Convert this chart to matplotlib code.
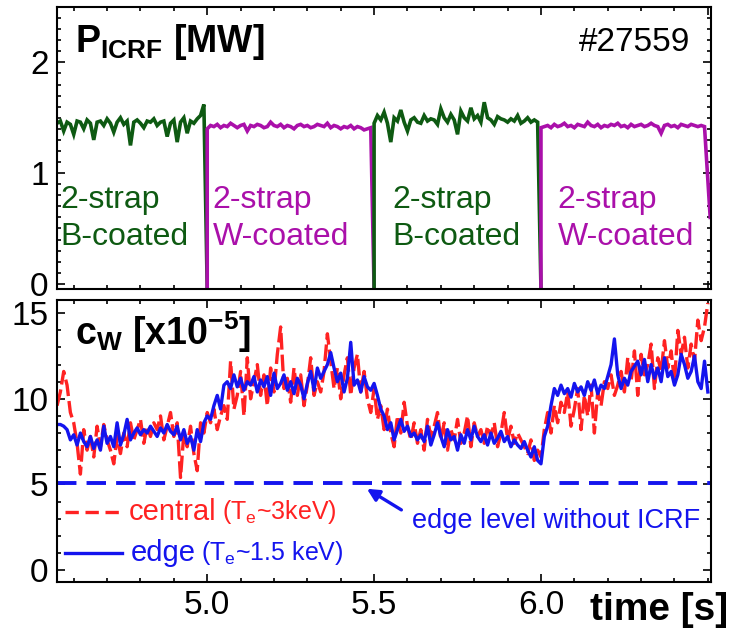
import numpy as np
import matplotlib
matplotlib.use("Agg")
import matplotlib.pyplot as plt
from matplotlib.ticker import MultipleLocator

plt.rcParams['font.family'] = ['Liberation Sans', 'DejaVu Sans']
plt.rcParams['mathtext.fontset'] = 'custom'
plt.rcParams['mathtext.rm'] = 'Liberation Sans'
plt.rcParams['mathtext.bf'] = 'Liberation Sans:bold'
plt.rcParams['mathtext.it'] = 'Liberation Sans:italic'

# ---------------- data ----------------
# ICRF power [MW], sampled every 0.01 s
t_green1 = 4.55
p_green1 = [1.45, 1.47, 1.38, 1.46, 1.44, 1.35, 1.47, 1.46, 1.40, 1.48,
            1.45, 1.30, 1.46, 1.47, 1.43, 1.49, 1.45, 1.37, 1.46, 1.50,
            1.44, 1.47, 1.25, 1.46, 1.48, 1.45, 1.41, 1.47, 1.46, 1.49,
            1.43, 1.46, 1.47, 1.33, 1.45, 1.48, 1.28, 1.46, 1.50, 1.36,
            1.47, 1.45, 1.49, 1.52, 1.62]
t_mag1 = 5.00
p_mag1 = [1.40, 1.43, 1.42, 1.44, 1.41, 1.43, 1.42, 1.45, 1.43, 1.41,
          1.43, 1.44, 1.38, 1.43, 1.42, 1.44, 1.43, 1.41, 1.42, 1.46,
          1.43, 1.42, 1.44, 1.41, 1.43, 1.42, 1.40, 1.43, 1.44, 1.42,
          1.43, 1.41, 1.42, 1.44, 1.43, 1.42, 1.45, 1.41, 1.43, 1.42,
          1.40, 1.42, 1.41, 1.43, 1.40, 1.42, 1.41, 1.39, 1.40, 1.41]
t_green2 = 5.50
p_green2 = [1.45, 1.52, 1.48, 1.55, 1.45, 1.28, 1.50, 1.47, 1.57, 1.46,
            1.38, 1.48, 1.50, 1.46, 1.45, 1.52, 1.47, 1.49, 1.48, 1.44,
            1.58, 1.50, 1.46, 1.53, 1.48, 1.35, 1.56, 1.50, 1.47, 1.59,
            1.49, 1.52, 1.46, 1.64, 1.50, 1.48, 1.44, 1.51, 1.49, 1.48,
            1.46, 1.49, 1.47, 1.52, 1.45, 1.47, 1.50, 1.46, 1.48, 1.46]
t_mag2 = 6.00
p_mag2 = [1.41, 1.42, 1.43, 1.41, 1.44, 1.42, 1.43, 1.45, 1.42, 1.43,
          1.41, 1.44, 1.43, 1.42, 1.46, 1.43, 1.42, 1.44, 1.41, 1.43,
          1.42, 1.44, 1.43, 1.45, 1.42, 1.43, 1.41, 1.44, 1.42, 1.43,
          1.44, 1.42, 1.43, 1.45, 1.43, 1.42, 1.36, 1.43, 1.44, 1.42,
          1.43, 1.41, 1.44, 1.43, 1.42, 1.44, 1.43, 1.42, 1.43, 1.42]
p_end = 0.6

# tungsten concentration [1e-5], sampled every 0.01 s from 4.55 s
t_cw0 = 4.55
cw_edge = [8.5, 8.5, 8.4, 8.2, 7.6, 7.9, 7.3, 8.0, 7.5, 7.2,
           7.8, 7.1, 7.6, 7.0, 8.4, 7.4, 7.8, 7.2, 8.6, 7.3,
           7.9, 8.8, 7.6, 8.0, 8.3, 7.9, 8.2, 8.0, 8.4, 8.1,
           7.8, 8.3, 8.0, 8.5, 8.1, 7.9, 8.4, 7.6, 8.2, 7.4,
           7.8, 7.0, 8.2, 7.5, 8.6, 9.0, 8.8, 9.6, 10.2, 9.4,
           10.8, 11.0, 10.6, 11.4, 10.7, 11.2, 10.5, 11.0, 10.8, 11.3,
           10.4, 11.1, 10.7, 11.3, 10.2, 11.5, 10.6, 10.9, 11.4, 10.5,
           11.0, 10.3, 11.2, 10.8, 10.0, 10.9, 11.6, 10.5, 11.8, 11.2,
           11.6, 12.0, 12.7, 11.8, 11.0, 11.5, 10.4, 11.2, 13.3, 10.8,
           11.1, 10.4, 11.3, 10.7, 10.5, 10.9, 10.2, 9.4, 9.0, 8.2,
           8.6, 7.6, 8.2, 8.8, 8.1, 8.4, 7.8, 8.0, 7.6, 7.9,
           7.5, 8.4, 7.3, 7.9, 8.6, 7.8, 7.2, 8.2, 7.6, 7.8,
           7.0, 7.9, 7.4, 8.2, 7.6, 8.4, 7.8, 7.5, 7.9, 7.3,
           8.0, 7.4, 7.7, 8.1, 7.5, 7.8, 7.2, 7.6, 7.3, 7.1,
           7.5, 7.0, 6.6, 7.2, 6.4, 6.2, 7.8, 8.4, 9.6, 10.6,
           10.2, 10.8, 10.3, 10.6, 10.1, 10.9, 10.4, 10.7, 10.2, 11.0,
           10.5, 11.1, 10.3, 10.8, 10.6, 11.3, 12.0, 13.5, 11.4, 10.6,
           11.2, 10.8, 11.6, 11.9, 12.2, 11.4, 12.3, 11.0, 12.0, 11.2,
           11.8, 11.0, 12.4, 11.3, 11.6, 10.8, 11.4, 12.6, 12.0, 11.2,
           11.6, 12.5, 11.0, 10.6, 12.2, 10.4]
cw_central = [9.6, 10.4, 11.6, 10.8, 9.2, 8.6, 7.4, 5.6, 8.2, 7.0,
              7.8, 6.6, 8.4, 7.2, 8.5, 7.6, 7.0, 6.2, 7.8, 6.8,
              8.0, 7.2, 8.6, 7.6, 8.2, 8.8, 7.4, 8.4, 7.8, 8.6,
              8.2, 9.0, 7.6, 8.4, 9.2, 7.8, 8.6, 5.4, 8.0, 7.2,
              8.4, 6.8, 5.8, 8.6, 8.0, 9.2, 8.6, 9.4, 8.2, 9.0,
              9.6, 8.8, 12.2, 9.4, 10.2, 11.6, 9.0, 12.4, 10.0, 11.0,
              12.0, 10.2, 11.4, 9.6, 11.8, 10.4, 12.6, 14.2, 10.6, 11.2,
              9.8, 11.8, 10.2, 11.4, 9.6, 10.8, 12.4, 10.2, 11.0, 10.4,
              11.6, 13.8, 12.2, 10.6, 11.8, 10.0, 11.4, 12.4, 10.2, 11.8,
              12.6, 10.4, 11.6, 10.0, 9.2, 10.6, 8.8, 9.6, 8.2, 9.4,
              8.0, 7.2, 9.0, 8.0, 9.8, 8.4, 7.6, 8.6, 7.4, 8.2,
              7.0, 8.8, 7.8, 8.4, 9.2, 7.6, 8.6, 7.0, 8.2, 7.6,
              8.8, 7.4, 8.0, 9.0, 7.2, 8.6, 7.8, 8.2, 7.4, 8.4,
              7.8, 8.6, 7.2, 8.0, 9.2, 7.6, 8.4, 7.4, 8.0, 7.6,
              7.2, 6.8, 7.6, 6.4, 7.0, 6.6, 8.2, 9.2, 8.0, 9.6,
              8.6, 9.8, 9.2, 10.4, 8.4, 9.4, 10.6, 8.2, 10.2, 9.0,
              10.8, 8.0, 10.4, 9.6, 11.0, 10.6, 11.4, 10.2, 10.8, 11.6,
              10.4, 12.4, 11.0, 12.8, 10.2, 12.6, 11.4, 12.0, 13.2, 10.6,
              12.4, 11.6, 13.4, 11.8, 12.8, 11.0, 14.0, 12.6, 13.6, 11.8,
              13.2, 12.2, 14.6, 13.4, 14.2, 15.6]
edge_level_no_icrf = 5.1

dt = 0.01
green = '#0e5a12'
magenta = '#aa10aa'
red = '#ff2222'
blue = '#1414ee'

# ---------------- figure ----------------
fig = plt.figure(figsize=(7.35, 6.36), dpi=100)
ax1 = fig.add_axes([0.0776, 0.545, 0.890, 0.444])
ax2 = fig.add_axes([0.0776, 0.085, 0.890, 0.444])

xlim = (4.55, 6.51)

def seg(t0, vals, start_zero=True, end_val=0.0):
    t = t0 + dt * np.arange(len(vals))
    tt = np.concatenate([[t0] if start_zero else [], t, [t[-1] + dt]])
    vv = np.concatenate([[0.0] if start_zero else [], vals, [end_val]])
    return tt, vv

for t0, vals, col, sz, ev in [(t_green1, p_green1, green, False, 0.0),
                              (t_mag1, p_mag1, magenta, True, 0.0),
                              (t_green2, p_green2, green, True, 0.0),
                              (t_mag2, p_mag2, magenta, True, p_end)]:
    tt, vv = seg(t0, vals, sz, ev)
    if ev != 0.0:
        tt[-1] = xlim[1] - 0.003
    vv = np.where(vv == 0.0, -0.05, vv)
    ax1.plot(tt, vv, color=col, lw=2.6, solid_joinstyle='miter')

ax1.set_xlim(*xlim)
ax1.set_ylim(-0.05, 2.5)
ax1.yaxis.set_major_locator(MultipleLocator(1))
ax1.yaxis.set_minor_locator(MultipleLocator(0.1))
ax1.xaxis.set_major_locator(MultipleLocator(0.5))
ax1.xaxis.set_minor_locator(MultipleLocator(0.1))
ax1.tick_params(labelbottom=False)

ax1.text(0.028, 0.875, r"$\mathbf{P_{ICRF}}$ [MW]", transform=ax1.transAxes,
         fontsize=27, fontweight='bold', va='center', ha='left')
ax1.text(0.968, 0.875, "#27559", transform=ax1.transAxes,
         fontsize=24, va='center', ha='right')

labels_top = [(0.005, green), (0.238, magenta), (0.513, green), (0.765, magenta)]
strap_names = ["2-strap\nB-coated", "2-strap\nW-coated", "2-strap\nB-coated", "2-strap\nW-coated"]
for (x, c), s in zip(labels_top, strap_names):
    ax1.text(x, 0.25, s, transform=ax1.transAxes, color=c, fontsize=23,
             va='center', ha='left', linespacing=1.3)

# bottom panel
t_cw = t_cw0 + dt * np.arange(len(cw_edge))
ax2.plot(t_cw, cw_central, color=red, lw=2.4, dashes=(5, 1.5))
ax2.plot(t_cw, cw_edge, color=blue, lw=2.4)
ax2.axhline(edge_level_no_icrf, color=blue, lw=2.8, dashes=(5, 2.6))

ax2.set_xlim(*xlim)
ax2.set_ylim(-0.7, 15.8)
ax2.yaxis.set_major_locator(MultipleLocator(5))
ax2.yaxis.set_minor_locator(MultipleLocator(1))
ax2.xaxis.set_major_locator(MultipleLocator(0.5))
ax2.xaxis.set_minor_locator(MultipleLocator(0.1))
ax2.set_xticks([5.0, 5.5, 6.0])
ax2.set_xticklabels(["5.0", "5.5", "6.0"])

ax2.text(0.028, 0.885, r"$\mathbf{c_W}$ [x10$^{\mathbf{-5}}$]", transform=ax2.transAxes,
         fontsize=27, fontweight='bold', va='center', ha='left')

# legend (hand drawn)
ax2.plot([0.012, 0.10], [0.248, 0.248], transform=ax2.transAxes, color=red, lw=2.4,
         dashes=(4, 2))
ax2.plot([0.012, 0.10], [0.103, 0.103], transform=ax2.transAxes, color=blue, lw=2.4)
ax2.text(0.11, 0.248, "central", transform=ax2.transAxes, color=red, fontsize=21,
         va='center', ha='left')
ax2.text(0.252, 0.248, r"(T$_\mathrm{e}$~3keV)", transform=ax2.transAxes, color=red,
         fontsize=18, va='center', ha='left')
ax2.text(0.113, 0.103, "edge", transform=ax2.transAxes, color=blue, fontsize=21,
         va='center', ha='left')
ax2.text(0.22, 0.103, r"(T$_\mathrm{e}$~1.5 keV)", transform=ax2.transAxes, color=blue,
         fontsize=18, va='center', ha='left')
ax2.text(0.542, 0.215, "edge level without ICRF", transform=ax2.transAxes, color=blue,
         fontsize=19.5, va='center', ha='left')
ax2.annotate("", xy=(0.47, 0.335), xytext=(0.53, 0.25), xycoords='axes fraction',
             textcoords='axes fraction',
             arrowprops=dict(arrowstyle='-|>', color=blue, lw=2.4, mutation_scale=18))

fig.text(0.803, 0.041, "time [s]", fontsize=28, fontweight='bold', va='center', ha='left')

for ax in (ax1, ax2):
    for sp in ax.spines.values():
        sp.set_linewidth(1.5)
        sp.set_zorder(5)
    ax.tick_params(which='both', direction='in', top=True, right=True, width=1.2)
    ax.tick_params(which='major', length=6, labelsize=24, pad=6)
    ax.tick_params(which='minor', length=3)

fig.savefig("out.png", dpi=100)
